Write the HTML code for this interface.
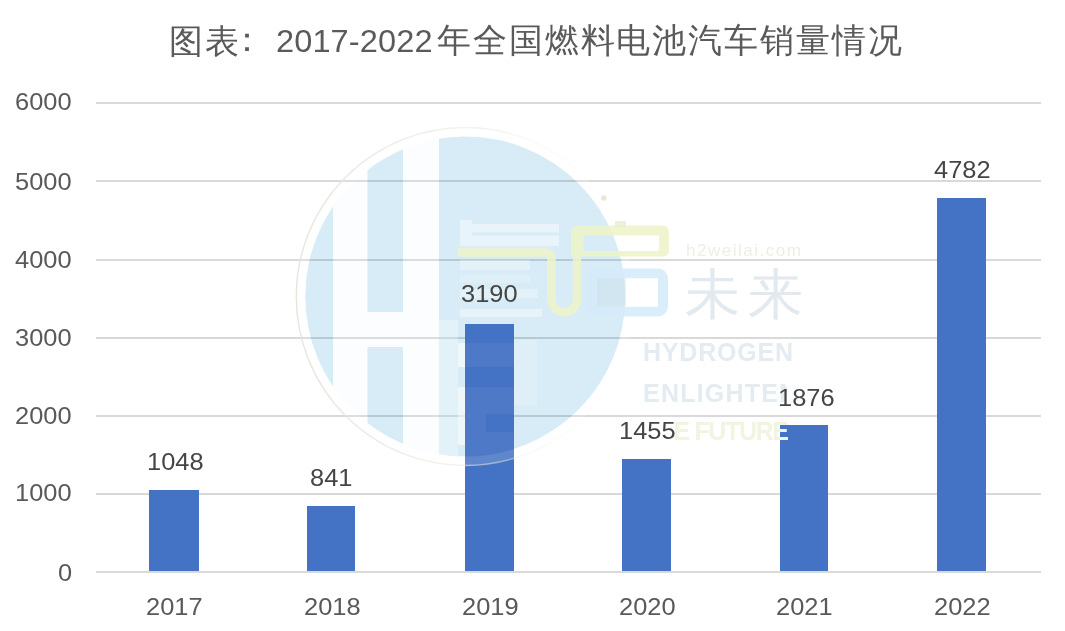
<!DOCTYPE html>
<html><head><meta charset="utf-8">
<style>
#wrap{position:absolute;left:0;top:0;width:1065px;height:631px;background:#fff;}
html,body{margin:0;padding:0;background:#fff;}
body{width:1065px;height:631px;position:relative;overflow:hidden;font-family:"Liberation Sans",sans-serif;color:#595959;}
.t{position:absolute;white-space:nowrap;line-height:1;}
.g{position:absolute;left:96px;width:945px;height:2px;background:#d9d9d9;}
.bar{position:absolute;width:49px;background:#4472c4;}
.n{font-size:24px;letter-spacing:0px;color:#595959;transform:scaleX(1.06);transform-origin:0 0;}
.tc{font-size:34px;font-weight:300;letter-spacing:1.9px;color:#5a5a5a;}
.td{font-size:31px;letter-spacing:0.1px;color:#5a5a5a;transform:scaleX(1.05);transform-origin:0 0;}
#wm{position:absolute;left:0;top:0;}
</style></head><body><div id="wrap">
<div class="g" style="top:102px"></div>
<div class="g" style="top:180px"></div>
<div class="g" style="top:259px"></div>
<div class="g" style="top:337px"></div>
<div class="g" style="top:415px"></div>
<div class="g" style="top:493px"></div>
<div class="g" style="top:571px"></div>
<div class="bar" style="left:149px;top:490px;width:50px;height:81px"></div>
<div class="bar" style="left:307px;top:506px;width:48px;height:65px"></div>
<div class="bar" style="left:465px;top:324px;width:49px;height:247px"></div>
<div class="bar" style="left:622px;top:459px;width:49px;height:112px"></div>
<div class="bar" style="left:780px;top:425px;width:48px;height:146px"></div>
<div class="bar" style="left:937px;top:198px;width:49px;height:373px"></div>
<svg style="position:absolute;left:0;top:0;mix-blend-mode:multiply" width="1065" height="631" viewBox="0 0 1065 631">
<defs><clipPath id="cc0"><circle cx="465.3" cy="296.5" r="160"/></clipPath></defs>
<path clip-path="url(#cc0)" fill="rgb(215,236,246)" fill-rule="evenodd" d="M300,130H630V460H300Z M333,130H367.5V460H333Z M403,130H439V460H403Z M367.5,312H403V347H367.5Z M465,324H514V460H465Z"/>
</svg>
<svg style="position:absolute;left:0;top:0" width="1065" height="631" viewBox="0 0 1065 631">
<defs>
<clipPath id="cc"><circle cx="465.3" cy="296.5" r="160"/></clipPath>
<clipPath id="b19"><rect x="465" y="324" width="49" height="247"/></clipPath>
</defs>
<circle cx="465.3" cy="296.5" r="164.5" fill="none" stroke="#fff" stroke-opacity="0.15" stroke-width="9"/>
<linearGradient id="rg" x1="0" y1="0" x2="1" y2="0"><stop offset="0" stop-color="#e6e2da" stop-opacity="0.9"/><stop offset="0.6" stop-color="#ece9e2" stop-opacity="0.5"/><stop offset="1" stop-color="#fff" stop-opacity="0"/></linearGradient>
<circle cx="465.3" cy="296.5" r="169" fill="none" stroke="url(#rg)" stroke-width="1.4"/>
<g clip-path="url(#cc)">
<path fill="rgb(235,244,250)" fill-opacity="0.15" d="M333,130H367.5V460H333Z M403,130H439V460H403Z M367.5,312H403V347H367.5Z"/>
<g fill="#fff">
<rect x="460" y="220" width="12" height="26" fill-opacity="0.45"/>
<rect x="472" y="224" width="87" height="8.5" fill-opacity="0.45"/>
<rect x="472" y="235.5" width="87" height="10.5" fill-opacity="0.45"/>
<rect x="460" y="260" width="70" height="10" fill-opacity="0.3"/>
<rect x="460" y="275" width="70" height="8" fill-opacity="0.2"/>
<rect x="460" y="289" width="78" height="9" fill-opacity="0.3"/>
<rect x="460" y="309" width="82" height="8" fill-opacity="0.4"/>
<rect x="439" y="320" width="19" height="140" fill-opacity="0.3"/>
<path fill-opacity="0.05" fill-rule="evenodd" d="M465,343H514V460H465Z M465,367H514V387H465Z M486,414H514V432H486Z"/>
<path fill-opacity="0.6" d="M458,343H465V367H458Z M458,387H465V445H458Z"/>
<rect x="514" y="340" width="23" height="65" fill-opacity="0.2"/>
</g>
</g>
<g fill="none" stroke="rgb(238,243,200)" stroke-opacity="0.85" stroke-width="8.5" stroke-linejoin="round">
<path d="M458,252.5H546.4a5,5 0 0 1 5,5V299.5a12.8,12.8 0 0 0 25.6,0V256.5"/>
</g>
<path fill="rgb(238,243,200)" fill-opacity="0.88" fill-rule="evenodd" d="M577.5,225.5H663a6,6 0 0 1 6,6V250.5a6,6 0 0 1 -6,6H571V232a6.5,6.5 0 0 1 6.5,-6.5Z M583.8,235.5H659V251H583.8Z"/>
<rect x="615" y="221" width="11" height="6" fill="rgb(232,238,205)" fill-opacity="0.8"/>
<circle cx="603.7" cy="198" r="2.8" fill="rgb(226,226,200)" fill-opacity="0.8"/>
<rect x="591" y="273.5" width="72" height="38" rx="5" fill="none" stroke="rgb(214,235,249)" stroke-opacity="0.9" stroke-width="10"/>
<rect x="597" y="278.5" width="29" height="28" fill="rgb(200,216,228)" fill-opacity="0.3"/>
<rect x="626" y="278.5" width="32" height="28" fill="#fff"/>
<g font-family="Liberation Sans, sans-serif">
<text x="686" y="256" font-size="17" fill="rgb(238,238,228)" textLength="115">h2weilai.com</text>
<text x="685" y="313" font-size="55" font-weight="100" fill="rgb(226,234,240)" textLength="118">未来</text>
<text x="643" y="360.5" font-size="25" font-weight="bold" fill="rgb(228,236,242)" textLength="150">HYDROGEN</text>
<text x="643" y="402" font-size="25" font-weight="bold" fill="rgb(228,236,242)" textLength="172">ENLIGHTENS</text>
<text x="643" y="439.5" font-size="25" font-weight="bold" fill="rgb(243,243,226)" textLength="146">THE FUTURE</text>
</g>
</svg>
<div style="position:absolute;left:619px;top:419px;width:56px;height:23px;background:#fff;opacity:1"></div>
<div style="position:absolute;left:787px;top:383px;width:48px;height:25px;background:#fff;opacity:0.85"></div>
<div class="t tc" style="left:169px;top:24px;">图表</div>
<div class="t tc" style="left:230px;top:22px;">：</div>
<div class="t td" style="left:276px;top:26px;">2017-2022</div>
<div class="t tc" style="left:437px;top:23px;">年全国燃料电池汽车销量情况</div>
<div class="t n" style="left:15.0px;top:90.4px;">6000</div>
<div class="t n" style="left:15.0px;top:169.8px;">5000</div>
<div class="t n" style="left:15.0px;top:247.9px;">4000</div>
<div class="t n" style="left:14.7px;top:325.9px;">3000</div>
<div class="t n" style="left:14.8px;top:403.6px;">2000</div>
<div class="t n" style="left:14.7px;top:481.1px;">1000</div>
<div class="t n" style="left:57.5px;top:560.9px;">0</div>
<div class="t n" style="left:146.4px;top:595.0px;">2017</div>
<div class="t n" style="left:303.6px;top:594.9px;">2018</div>
<div class="t n" style="left:462.0px;top:594.9px;">2019</div>
<div class="t n" style="left:619.4px;top:595.0px;">2020</div>
<div class="t n" style="left:775.6px;top:595.0px;">2021</div>
<div class="t n" style="left:934.0px;top:595.0px;">2022</div>
<div class="t n" style="left:146.8px;top:450.0px;color:#454545;">1048</div>
<div class="t n" style="left:309.6px;top:465.8px;color:#454545;">841</div>
<div class="t n" style="left:461.0px;top:281.6px;color:#454545;">3190</div>
<div class="t n" style="left:618.6px;top:418.6px;color:#454545;">1455</div>
<div class="t n" style="left:777.8px;top:385.6px;color:#454545;">1876</div>
<div class="t n" style="left:933.5px;top:158.2px;color:#454545;">4782</div>
</div></body></html>
